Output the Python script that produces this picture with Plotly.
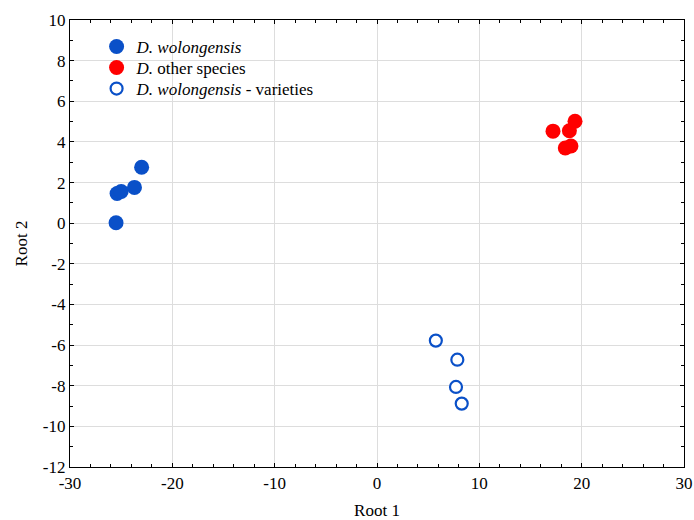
import plotly.graph_objects as go

# Data
wol_x = [-25.5, -25.4, -25.0, -23.7, -23.0]
wol_y = [0.02, 1.46, 1.56, 1.76, 2.75]

oth_x = [17.2, 18.8, 19.35, 18.4, 18.95]
oth_y = [4.53, 4.55, 5.02, 3.70, 3.80]

var_x = [5.75, 7.85, 7.72, 8.28]
var_y = [-5.78, -6.72, -8.06, -8.88]

x_ticks = [-30, -20, -10, 0, 10, 20, 30]
y_ticks = [-12, -10, -8, -6, -4, -2, 0, 2, 4, 6, 8, 10]

blue = "#0A50C8"
red = "#FF0000"

fam = "Liberation Serif, Times New Roman, serif"

fig = go.Figure()
fig.add_trace(go.Scatter(x=wol_x, y=wol_y, mode="markers", name="<i>D. wolongensis</i>",
                         legend="legend",
                         marker=dict(size=15, color=blue, line=dict(width=0))))
fig.add_trace(go.Scatter(x=oth_x, y=oth_y, mode="markers", name="<i>D.</i> other species",
                         legend="legend2",
                         marker=dict(size=15, color=red, line=dict(width=0))))
fig.add_trace(go.Scatter(x=var_x, y=var_y, mode="markers", name="<i>D. wolongensis</i> - varieties",
                         legend="legend3",
                         marker=dict(size=12, color="white", symbol="circle",
                                     line=dict(width=2.2, color=blue))))

def leg(y):
    return dict(x=0.0433, y=y, xanchor="left", yanchor="middle",
                bgcolor="rgba(0,0,0,0)", font=dict(family=fam, size=17, color="black"),
                itemsizing="trace", itemwidth=30)

fig.update_layout(
    width=694, height=520,
    margin=dict(l=70, r=10, t=20, b=53),
    paper_bgcolor="white", plot_bgcolor="white",
    font=dict(family=fam, size=17, color="black"),
    showlegend=True,
    legend=leg(0.9396),
    legend2=leg(0.8926),
    legend3=leg(0.8456),
)
fig.update_xaxes(range=[-30, 30], tickmode="array", tickvals=x_ticks,
                 ticktext=[str(v) for v in x_ticks], automargin=False,
                 showgrid=True, gridcolor="#DDDDDD", gridwidth=1,
                 zeroline=False, showline=True, linecolor="black", linewidth=1.2, mirror="ticks",
                 ticks="inside", ticklen=4, tickcolor="black",
                 minor=dict(dtick=2, tick0=0, ticks="inside", ticklen=3, tickcolor="black", showgrid=False),
                 title=dict(text="Root 1", font=dict(size=17), standoff=12))
fig.update_yaxes(range=[-12, 10], tickmode="array", tickvals=y_ticks,
                 ticktext=[str(v) for v in y_ticks], automargin=False,
                 showgrid=True, gridcolor="#DDDDDD", gridwidth=1,
                 zeroline=False, showline=True, linecolor="black", linewidth=1.2, mirror="ticks",
                 ticks="inside", ticklen=4, tickcolor="black",
                 minor=dict(dtick=1, tick0=0, ticks="inside", ticklen=3, tickcolor="black", showgrid=False),
                 title=dict(text="Root 2", font=dict(size=17), standoff=10))

fig.write_html("out.html", config={"displayModeBar": False},
               post_script="document.body.style.margin='0';document.body.style.overflow='hidden';")
